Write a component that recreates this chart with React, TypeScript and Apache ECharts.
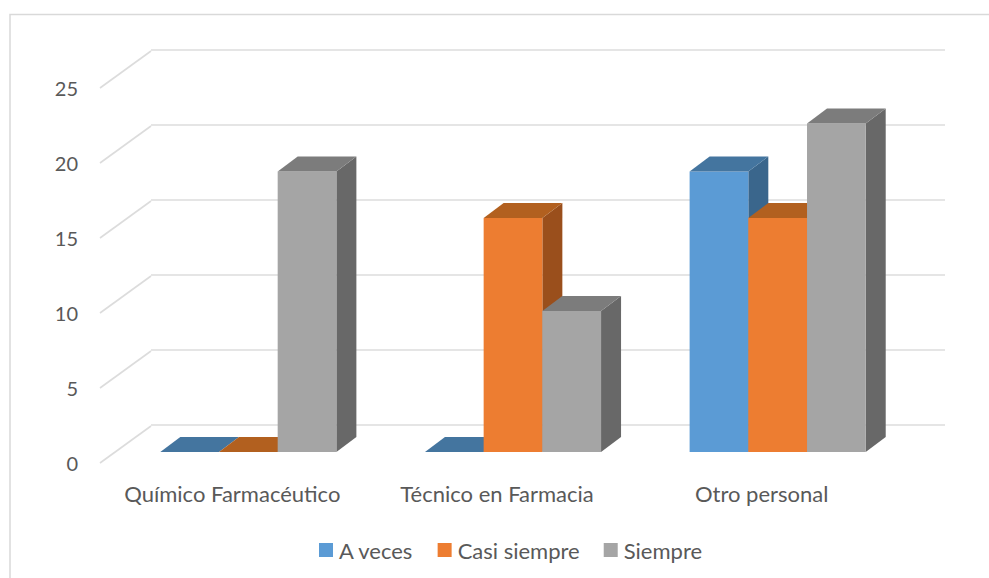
import React, { useEffect, useRef } from "react";
import * as echarts from "echarts";

const categories = ["Químico Farmacéutico", "Técnico en Farmacia", "Otro personal"];
const aVeces = [0, 0, 18.7];
const casiSiempre = [0, 15.6, 15.6];
const siempre = [18.7, 9.4, 21.9];
const wallTicks = [0, 5, 10, 15, 20, 25];

const seriesNames = ["A veces", "Casi siempre", "Siempre"];
const palette = [
  { front: "#5b9bd5", top: "#44759f", side: "#3a668c" },
  { front: "#ed7d31", top: "#b2601f", side: "#9a4f1c" },
  { front: "#a5a5a5", top: "#7c7c7c", side: "#686868" },
];

const FONT = "Lato";
const TEXT = "#595959";
const GRID_LINE = "#dcdcdc";

// Depth of the floor between the front plane and the back wall.
const WALL_DX = 51;
const WALL_DY = 37;
// Where the bar prisms sit inside that depth.
const BAR_DX = 16;
const BAR_DY = 11;
const BAR_DEPTH_X = 20;
const BAR_DEPTH_Y = 15;
const BAR_WIDTH = 58.7;

function prismRenderer(seriesIndex: number) {
  const colors = palette[seriesIndex];
  return (_params: any, api: any) => {
    const cat = api.value(0);
    const value = api.value(1);
    const topPt = api.coord([cat, value]);
    const basePt = api.coord([cat, 0]);
    const x0 = topPt[0] + BAR_DX + (seriesIndex - 1.5) * BAR_WIDTH;
    const x1 = x0 + BAR_WIDTH;
    const yTop = topPt[1] - BAR_DY;
    const yBase = basePt[1] - BAR_DY;
    const dx = BAR_DEPTH_X;
    const dy = BAR_DEPTH_Y;
    const children: any[] = [];
    if (value > 0) {
      children.push({
        type: "polygon",
        shape: { points: [[x1, yTop], [x1 + dx, yTop - dy], [x1 + dx, yBase - dy], [x1, yBase]] },
        style: { fill: colors.side },
      });
      children.push({
        type: "rect",
        shape: { x: x0, y: yTop, width: BAR_WIDTH, height: yBase - yTop },
        style: { fill: colors.front },
      });
    }
    children.push({
      type: "polygon",
      shape: { points: [[x0, yTop], [x1, yTop], [x1 + dx, yTop - dy], [x0 + dx, yTop - dy]] },
      style: { fill: colors.top },
    });
    return { type: "group", children };
  };
}

function floorLineRenderer(params: any, api: any) {
  const pt = api.coord([0, api.value(0)]);
  const x = params.coordSys.x;
  return {
    type: "line",
    shape: { x1: x, y1: pt[1], x2: x + WALL_DX, y2: pt[1] - WALL_DY },
    style: { stroke: GRID_LINE, lineWidth: 1.6 },
  };
}

export default function App() {
  const ref = useRef<HTMLDivElement>(null);

  useEffect(() => {
    const chart = echarts.init(ref.current!, undefined, { renderer: "svg" });
    const values = [aVeces, casiSiempre, siempre];
    chart.setOption({
      animation: false,
      backgroundColor: "#ffffff",
      textStyle: { fontFamily: FONT },
      graphic: [
        {
          type: "polyline",
          silent: true,
          shape: { points: [[10, 578], [10, 14.5], [989, 14.5]] },
          style: { fill: "none", stroke: "#d9d9d9", lineWidth: 1.5 },
        },
      ],
      legend: {
        data: seriesNames,
        bottom: 12,
        left: 314,
        icon: "rect",
        itemWidth: 14,
        itemHeight: 14,
        itemGap: 24,
        textStyle: { color: TEXT, fontSize: 22, fontFamily: FONT, padding: [0, 0, 0, 1] },
      },
      grid: [
        { left: 100, width: 794, top: 88, height: 375 },
        { left: 151, width: 794, top: 50, height: 375 },
      ],
      xAxis: [
        {
          type: "category",
          gridIndex: 0,
          data: categories,
          axisLine: { show: false },
          axisTick: { show: false },
          axisLabel: {
            color: TEXT,
            fontSize: 22,
            fontFamily: FONT,
            margin: 19,
            interval: 0,
            hideOverlap: false,
          },
        },
        {
          type: "category",
          gridIndex: 1,
          data: categories,
          axisLine: { show: false },
          axisTick: { show: false },
          axisLabel: { show: false },
        },
      ],
      yAxis: [
        {
          type: "value",
          gridIndex: 0,
          min: 0,
          max: 25,
          interval: 5,
          axisLine: { show: false },
          axisTick: { show: false },
          splitLine: { show: false },
          axisLabel: { color: TEXT, fontSize: 20, fontFamily: FONT, margin: 22 },
        },
        {
          type: "value",
          gridIndex: 1,
          min: 0,
          max: 25,
          interval: 5,
          axisLine: { show: false },
          axisTick: { show: false },
          axisLabel: { show: false },
          splitLine: { show: true, lineStyle: { color: GRID_LINE, width: 1.6 } },
        },
      ],
      series: [
        {
          type: "custom",
          xAxisIndex: 0,
          yAxisIndex: 0,
          silent: true,
          renderItem: floorLineRenderer,
          encode: { y: 0 },
          data: wallTicks.map((t) => [t]),
          z: 1,
        },
        ...seriesNames.map((name, i) => ({
          type: "custom",
          name,
          xAxisIndex: 0,
          yAxisIndex: 0,
          itemStyle: { color: palette[i].front },
          renderItem: prismRenderer(i),
          encode: { x: 0, y: 1 },
          data: values[i].map((v, c) => [c, v]),
          z: 2 + i,
        })),
      ],
    });
    return () => chart.dispose();
  }, []);

  return (
    <div
      ref={ref}
      style={{ position: "fixed", left: 0, top: 0, width: 989, height: 578 }}
    />
  );
}
